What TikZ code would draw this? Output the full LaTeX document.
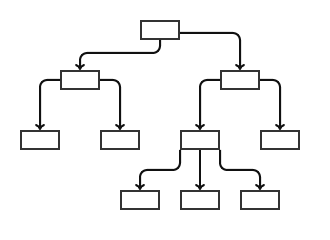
\documentclass[tikz,border=0pt]{standalone}
\usepackage{xcolor}
\definecolor{ink}{HTML}{333333}
\definecolor{wire}{HTML}{111111}
\usetikzlibrary{arrows.meta}
\tikzset{
  >={To[length=6pt, width=10pt]},
}

\begin{document}
\begin{tikzpicture}[x=1pt, y=-1pt,
    leaf/.style={draw=ink, line width=2pt, minimum width=38pt, minimum height=18pt, inner sep=0pt},
    e/.style={->, line width=2pt, color=wire, rounded corners=7pt}]
  \useasboundingbox[fill=white] (0,0) rectangle (330,240);
  % tree levels
  \node[leaf] (root) at (160,30) {};
  \node[leaf] (L) at (80,80) {};
  \node[leaf] (R) at (240,80) {};
  \node[leaf] (La) at (40,140) {};
  \node[leaf] (Lb) at (120,140) {};
  \node[leaf] (Ra) at (200,140) {};
  \node[leaf] (Rb) at (280,140) {};
  \node[leaf] (x0) at (140,200) {};
  \node[leaf] (x1) at (200,200) {};
  \node[leaf] (x2) at (260,200) {};
  % connectors
  \draw[e] (root.south) -- ++(0,13) -| (L);
  \draw[e] ([yshift=-3pt]root.east) -| (R);
  \draw[e] (L.west) -| (La);
  \draw[e] (L.east) -| (Lb);
  \draw[e] (R.west) -| (Ra);
  \draw[e] (R.east) -| (Rb);
  \draw[e] (Ra.south west) -- ++(0,20) -| (x0);
  \draw[e] (Ra) -- (x1);
  \draw[e] (Ra.south east) -- ++(0,20) -| (x2);
\end{tikzpicture}
\end{document}
